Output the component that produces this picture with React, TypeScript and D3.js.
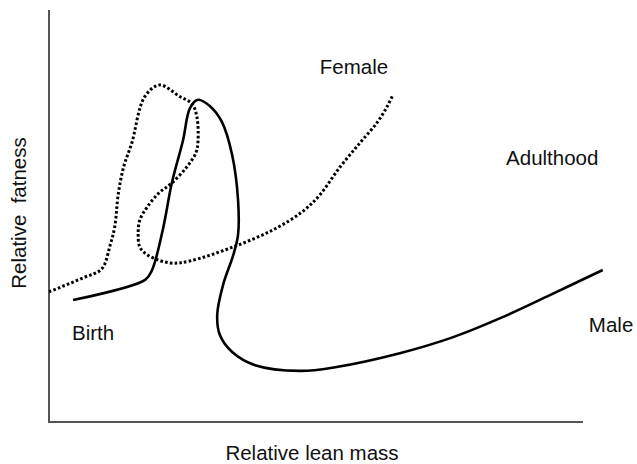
import * as d3 from "d3";

// relative lean mass (x) / relative fatness (y), arbitrary 0–100 units
const maleX = [4.5, 18.0, 19.3, 21.3, 23.0, 25.1, 26.4, 27.9, 30.1, 32.4, 34.3, 35.4, 35.4, 34.5, 32.6, 31.5, 32.0, 34.3, 38.6, 47.0, 53.6, 65.7, 75.7, 84.5, 93.8, 103.7];
const maleY = [29.6, 34.5, 36.9, 46.6, 58.0, 68.4, 76.2, 78.2, 76.7, 72.8, 64.8, 53.9, 45.4, 40.5, 33.3, 26.0, 21.1, 17.0, 13.8, 12.4, 13.3, 16.7, 20.6, 25.2, 30.8, 36.9];

const femaleX = [0, 6.4, 9.9, 11.4, 12.3, 13.0, 14.0, 15.5, 17.9, 20.7, 24.5, 26.8, 27.7, 27.9, 27.5, 25.8, 23.0, 20.6, 18.4, 17.0, 16.7, 17.0, 18.5, 22.7, 26.4, 34.5, 41.9, 47.4, 50.7, 54.5, 58.2, 61.4, 63.3, 64.4];
const femaleY = [31.6, 35.0, 37.2, 42.7, 47.3, 55.6, 62.0, 67.7, 78.9, 81.8, 79.0, 77.2, 74.0, 68.0, 65.3, 61.9, 58.0, 55.6, 52.2, 49.0, 45.9, 42.5, 40.5, 38.6, 39.1, 42.5, 46.6, 51.0, 55.1, 61.9, 67.7, 72.6, 76.5, 79.4];

const labels = [
  { text: "Female", x: 50.7, y: 84.5 },
  { text: "Adulthood", x: 85.6, y: 62.4 },
  { text: "Birth", x: 4.3, y: 19.9 },
  { text: "Male", x: 101.1, y: 21.8 },
];

const W = 637;
const H = 464;
const font = "'Liberation Sans', Arial, Helvetica, sans-serif";

export default function App() {
  const x = d3.scaleLinear().domain([0, 100]).range([49, 583]);
  const y = d3.scaleLinear().domain([0, 100]).range([422, 10]);

  const line = d3
    .line<[number, number]>()
    .x((d) => x(d[0]))
    .y((d) => y(d[1]))
    .curve(d3.curveCatmullRom.alpha(0.5));

  const male = line(maleX.map((v, i) => [v, maleY[i]])) ?? "";
  const female = line(femaleX.map((v, i) => [v, femaleY[i]])) ?? "";

  return (
    <svg
      width={W}
      height={H}
      style={{ position: "absolute", left: 0, top: 0, background: "#fff" }}
    >
      <line x1={x(0)} x2={x(0)} y1={y(100)} y2={y(0) + 1} stroke="#555" strokeWidth={2} />
      <line x1={x(0)} x2={x(100)} y1={y(0)} y2={y(0)} stroke="#555" strokeWidth={2} />

      <path d={female} fill="none" stroke="#000" strokeWidth={3} strokeDasharray="2.6 2.2" />
      <path d={male} fill="none" stroke="#000" strokeWidth={2.6} strokeLinejoin="round" />

      {labels.map((l) => (
        <text
          key={l.text}
          x={x(l.x)}
          y={y(l.y)}
          fontFamily={font}
          fontSize={20.5}
          fill="#111"
        >
          {l.text}
        </text>
      ))}

      <text x={312} y={460} textAnchor="middle" fontFamily={font} fontSize={20.5} fill="#111">
        Relative lean mass
      </text>
      <text
        transform="translate(26,213) rotate(-90)"
        textAnchor="middle"
        fontFamily={font}
        fontSize={20.5}
        fill="#111"
        style={{ whiteSpace: "pre" }}
      >
        {"Relative  fatness"}
      </text>
    </svg>
  );
}
